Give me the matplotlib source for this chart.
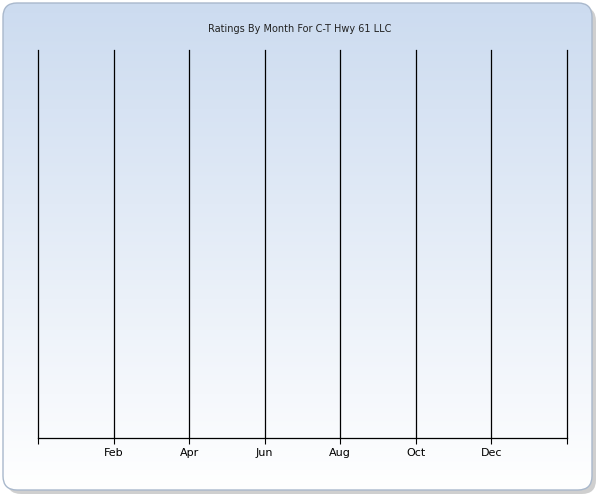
import matplotlib
matplotlib.use("Agg")
import matplotlib.pyplot as plt
import numpy as np
from matplotlib.patches import FancyBboxPatch

title = "Ratings By Month For C-T Hwy 61 LLC"
months = ["Jan","Feb","Mar","Apr","May","Jun","Jul","Aug","Sep","Oct","Nov","Dec"]
shown_labels = months[1::2]

fig = plt.figure(figsize=(6, 5), dpi=100)
W, H = 600, 500
bg = fig.add_axes([0, 0, 1, 1])
bg.set_xlim(0, W); bg.set_ylim(H, 0); bg.axis("off")
bg.add_patch(FancyBboxPatch((7, 7), 589, 487, boxstyle="round,pad=0,rounding_size=14",
                            fc="#b0b0b0", ec="none", alpha=0.6))
panel = FancyBboxPatch((3, 3), 589, 487, boxstyle="round,pad=0,rounding_size=14",
                       fc="none", ec="#a9b8cc", lw=1)
grad = np.linspace(0, 1, 256)
top = np.array([0.80, 0.86, 0.94]); bot = np.array([1.0, 1.0, 1.0])
img = (top + (bot - top) * grad[:, None]).reshape(256, 1, 3)
im = bg.imshow(img, extent=(3, 592, 490, 3), aspect="auto", zorder=1)
bg.add_patch(panel)
im.set_clip_path(panel)
bg.text(300, 29, title, ha="center", va="center", fontsize=7, color="#222222")

ax = fig.add_axes([38/W, 1-438/H, (567-38)/W, (438-50)/H])
ax.patch.set_alpha(0)
ax.set_xlim(0, 7); ax.set_ylim(0, 1)
pos = [(i+1)/2 for i in range(len(months))]
ax.set_xticks(pos[1::2])
ax.set_xticklabels(shown_labels, fontsize=8)
ax.set_xticks(range(8), minor=True)
ax.tick_params(axis="x", which="both", length=4, color="black", width=0.8)
ax.set_yticks([])
for x in range(8):
    ax.axvline(x, color="black", lw=0.9, clip_on=False)
for s in ["top", "left", "right"]:
    ax.spines[s].set_visible(False)
ax.spines["bottom"].set_linewidth(0.9)
fig.savefig("out.png", dpi=100)
